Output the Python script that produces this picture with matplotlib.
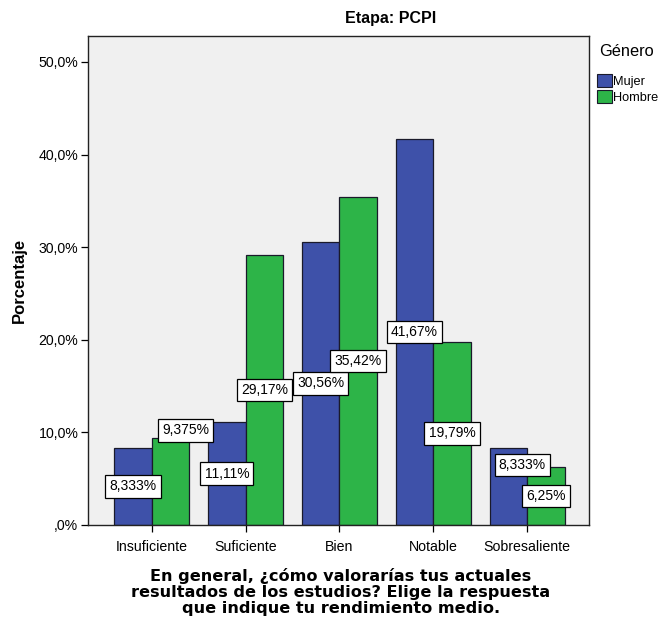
import matplotlib
matplotlib.use("Agg")
import matplotlib.pyplot as plt
import numpy as np
from matplotlib.patches import Patch

categories = ["Insuficiente", "Suficiente", "Bien", "Notable", "Sobresaliente"]
series_names = ["Mujer", "Hombre"]
mujer = [8.333, 11.11, 30.56, 41.67, 8.333]
hombre = [9.375, 29.17, 35.42, 19.79, 6.25]
yticks = [0, 10, 20, 30, 40, 50]

title = "Etapa: PCPI"
xlabel = "En general, ¿cómo valorarías tus actuales\nresultados de los estudios? Elige la respuesta\nque indique tu rendimiento medio."
ylabel = "Porcentaje"
legend_title = "Género"

colors = ["#3E51A9", "#2DB448"]
# label placement (fraction of bar height, x shift in category units)
label_frac = [[0.5, 0.5, 0.5, 0.5, 0.78], [1.09, 0.5, 0.5, 0.5, 0.5]]
label_dx = [[0, 0, 0, 0, 0.15], [0.16, 0, 0, 0, 0]]

plt.rcParams['font.family'] = ['Liberation Sans', 'DejaVu Sans']

fig = plt.figure(figsize=(6.58, 6.21), dpi=100)
ax = fig.add_axes([88/658, 1-525/621, (589-88)/658, (525-36)/621])
ax.set_facecolor("#F0F0F0")

x = np.arange(len(categories))
w = 0.40
data = [mujer, hombre]
for i, vals in enumerate(data):
    off = (i - 0.5) * w
    ax.bar(x + off, vals, width=w, color=colors[i], edgecolor="#1a1a2a", linewidth=0.9, zorder=2)

for i, vals in enumerate(data):
    off = (i - 0.5) * w
    for j, v in enumerate(vals):
        txt = f"{v:.4g}".replace(".", ",") + "%"
        ax.text(x[j] + off + label_dx[i][j], v * label_frac[i][j], txt,
                ha="center", va="center", fontsize=10, zorder=4,
                bbox=dict(boxstyle="square,pad=0.3", facecolor="white", edgecolor="black", linewidth=0.9))

ax.set_xlim(-0.68, 4.66)
ax.set_ylim(0, 52.8)
ax.set_xticks(x)
ax.set_xticklabels(categories, fontsize=10.2)
ax.set_yticks(yticks)
ax.set_yticklabels([(f"{t:.1f}".replace(".", ",") if t != 0 else ",0") + "%" for t in yticks], fontsize=10.2)
ax.tick_params(axis="both", direction="out", length=5, width=0.9, colors="black")
ax.tick_params(axis="x", pad=6)
ax.tick_params(axis="y", pad=2)
for s in ax.spines.values():
    s.set_linewidth(1.0)
    s.set_color("#222222")

ax.set_ylabel(ylabel, fontsize=12, fontweight="bold", labelpad=8)
fig.text(341/658, 1-592/621, xlabel, ha="center", va="center", fontsize=11.6,
         fontweight="bold", linespacing=1.05, family="DejaVu Sans")
fig.text(391/658, 1-18/621, title, ha="center", va="center", fontsize=11.5, fontweight="bold")
fig.text(599/658, 1-52/621, legend_title, ha="left", va="center", fontsize=11.8)

handles = [Patch(facecolor=colors[k], edgecolor="#1a1a2a", linewidth=0.8, label=series_names[k]) for k in range(2)]
leg = fig.legend(handles=handles, loc="upper left",
                 bbox_to_anchor=(588/658, 1-65/621), frameon=False, fontsize=9.2,
                 handlelength=1.15, handleheight=1.15,
                 handletextpad=0.12, labelspacing=0.2, borderpad=0.2)

fig.savefig("out.png", dpi=100, facecolor="white")
